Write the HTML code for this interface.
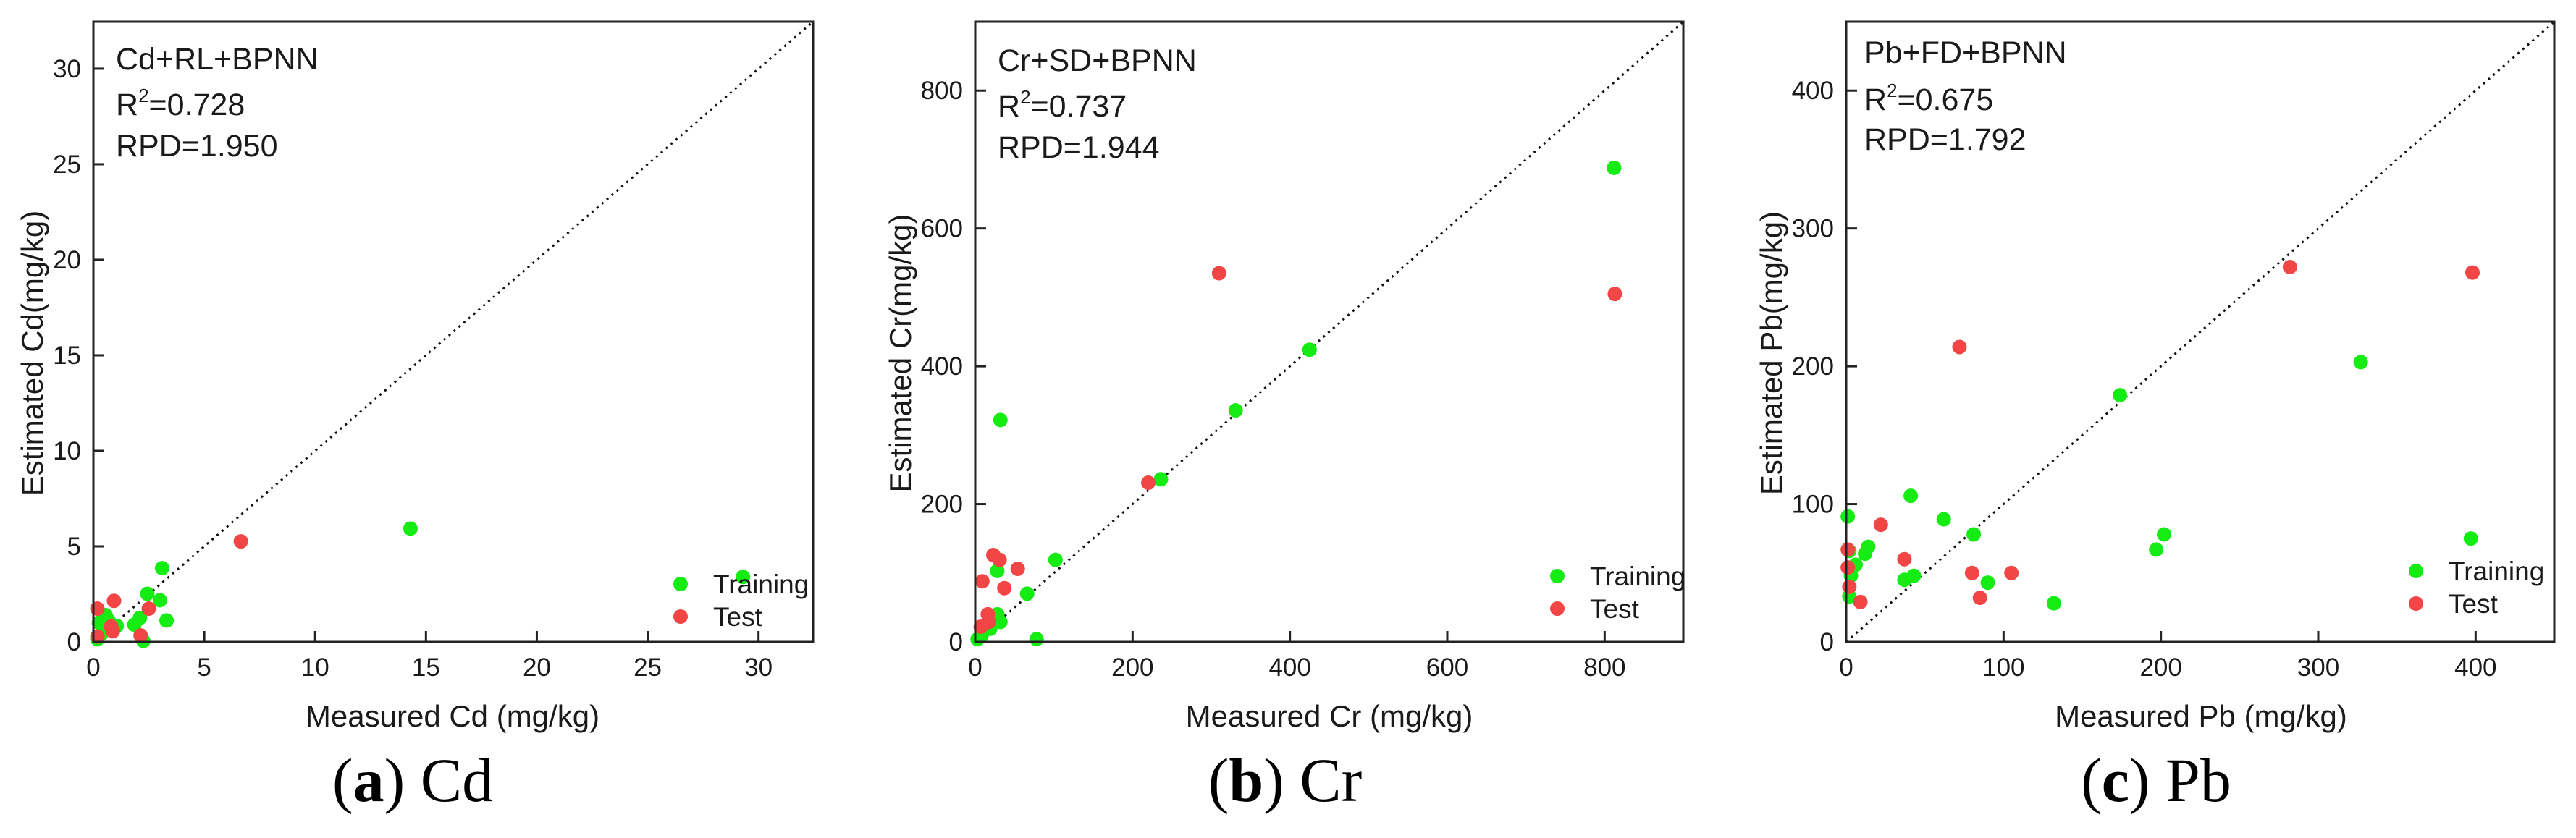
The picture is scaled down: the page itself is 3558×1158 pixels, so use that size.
<!DOCTYPE html>
<html><head><meta charset="utf-8"><style>
html,body{margin:0;padding:0;background:#fff;}
svg{display:block;}
text{font-family:"Liberation Sans",sans-serif;fill:#1a1a1a;}
.cap{font-family:"Liberation Serif",serif;font-size:86px;fill:#000;}
</style></head><body>
<svg id="fig" width="3558" height="1158" viewBox="0 0 3558 1158" xmlns="http://www.w3.org/2000/svg"></svg>
<script>
// Panel (a) Cd
const cdTrainX = [14.3,29.3,3.1,2.43,3.0,3.3,2.1,1.85,0.68,0.25,1.05,0.35,0.18,2.25,0.55];
const cdTrainY = [5.93,3.4,3.86,2.52,2.18,1.12,1.26,0.9,1.12,1.0,0.84,0.4,0.14,0.05,1.4];
const cdTestX = [6.65,0.93,0.18,2.5,0.88,2.13,0.18,0.8];
const cdTestY = [5.26,2.15,1.74,1.74,0.56,0.34,0.28,0.8];
const cdTicks = [0,5,10,15,20,25,30];
// Panel (b) Cr
const crTrainX = [812,425,331,236,32,102,28,66,28,32,78,19,8,3];
const crTrainY = [688,424,336,236,322,119,103,70,40,29,4,19,9,4];
const crTestX = [310,813,220,23,31,54,9,37,16,17,7];
const crTestY = [535,505,231,126,119,106,88,78,40,29,22];
const crTicks = [0,200,400,600,800];
// Panel (c) Pb
const pbTrainX = [327,174,41,397,202,197,62,81,90,132,37,43,14,12,6,1,2,2,3];
const pbTrainY = [203,179,106,75,78,67,89,78,43,28,45,48,69,64,56,91,66,33,48];
const pbTestX = [282,398,72,22,37,80,105,85,9,1,1,2];
const pbTestY = [272,268,214,85,60,50,50,32,29,67,54,40];
const pbTicks = [0,100,200,300,400];

const NS = "http://www.w3.org/2000/svg";
const svg = document.getElementById('fig');
function el(tag, attrs, parent, txt){
  const e = document.createElementNS(NS, tag);
  for (const k in attrs) e.setAttribute(k, attrs[k]);
  if (txt !== undefined) e.textContent = txt;
  (parent || svg).appendChild(e);
  return e;
}
const panels = [
  {id:'cd', L:129, R:1123, T:30, B:887, max:32.46, ticks:cdTicks, tx:cdTrainX, ty:cdTrainY, sx:cdTestX, sy:cdTestY,
   lines:['Cd+RL+BPNN','0.728','RPD=1.950'], textX:160, base:[96,159,216], yTitle:'Estimated Cd(mg/kg)', yTitleX:44,
   xTitle:'Measured Cd (mg/kg)', xTitleX:625, legX:940, legY:[807,852], cap:['a',' Cd'], capX:570},
  {id:'cr', L:1347, R:2325, T:30, B:887, max:900, ticks:crTicks, tx:crTrainX, ty:crTrainY, sx:crTestX, sy:crTestY,
   lines:['Cr+SD+BPNN','0.737','RPD=1.944'], textX:1378, base:[98,161,218], yTitle:'Estimated Cr(mg/kg)', yTitleX:1243,
   xTitle:'Measured Cr (mg/kg)', xTitleX:1836, legX:2151, legY:[796,841], cap:['b',' Cr'], capX:1775},
  {id:'pb', L:2550, R:3528, T:30, B:887, max:450, ticks:pbTicks, tx:pbTrainX, ty:pbTrainY, sx:pbTestX, sy:pbTestY,
   lines:['Pb+FD+BPNN','0.675','RPD=1.792'], textX:2575, base:[87,152,207], yTitle:'Estimated Pb(mg/kg)', yTitleX:2446,
   xTitle:'Measured Pb (mg/kg)', xTitleX:3040, legX:3337, legY:[789,834], cap:['c',' Pb'], capX:2978}
];
const GREEN = '#14ec14', RED = '#f24545';
panels.forEach(p => {
  const g = el('g', {});
  
  
  const xs = v => p.L + v / p.max * (p.R - p.L);
  const ys = v => p.B - v / p.max * (p.B - p.T);
  // diagonal 1:1 line
  const d = el('line', {x1:xs(0), y1:ys(0), x2:xs(p.max), y2:ys(p.max), stroke:'#111', 'stroke-width':3, 'stroke-dasharray':'3,6'}, g);
  
  
  // points
  p.tx.forEach((v,i) => {
    const c = el('circle', {cx:xs(v), cy:ys(p.ty[i]), r:10, fill:GREEN}, g);
    
    
  });
  p.sx.forEach((v,i) => {
    const c = el('circle', {cx:xs(v), cy:ys(p.sy[i]), r:10, fill:RED}, g);
    
    
  });
  // frame
  const fr = el('rect', {x:p.L, y:p.T, width:p.R-p.L, height:p.B-p.T, fill:'none', stroke:'#222', 'stroke-width':3}, g);
  
  
  // ticks
  p.ticks.forEach(t => {
    el('line', {x1:xs(t), y1:p.B, x2:xs(t), y2:p.B-15, stroke:'#222', 'stroke-width':3}, g);
    const xl = el('text', {x:xs(t), y:934, 'font-size':35, 'text-anchor':'middle'}, g, t);
    
    
    el('line', {x1:p.L, y1:ys(t), x2:p.L+15, y2:ys(t), stroke:'#222', 'stroke-width':3}, g);
    const yl = el('text', {x:p.L-17, y:ys(t)+12, 'font-size':35, 'text-anchor':'end'}, g, t);
    
    
  });
  // inset text
  const t1 = el('text', {x:p.textX, y:p.base[0], 'font-size':43}, g, p.lines[0]);
  
  
  const t2 = el('text', {x:p.textX, y:p.base[1], 'font-size':43}, g);
  
  
  el('tspan', {}, t2, 'R');
  el('tspan', {'font-size':26, dy:-18}, t2, '2');
  el('tspan', {dy:18}, t2, '=' + p.lines[1]);
  const t3 = el('text', {x:p.textX, y:p.base[2], 'font-size':43}, g, p.lines[2]);
  
  
  // axis titles
  const xt = el('text', {x:p.xTitleX, y:1004, 'font-size':42, 'text-anchor':'middle'}, g, p.xTitle);
  
  
  const yt = el('text', {x:p.yTitleX+15, y:488, 'font-size':42, 'text-anchor':'middle', transform:`rotate(-90 ${p.yTitleX+15} 488)`}, g, p.yTitle);
  
  
  // legend
  const lg = el('g', {}, g);
  
  
  el('circle', {cx:p.legX, cy:p.legY[0], r:10, fill:GREEN}, lg);
  const l1 = el('text', {x:p.legX+45, y:p.legY[0]+13, 'font-size':37}, lg, 'Training');
  
  
  el('circle', {cx:p.legX, cy:p.legY[1], r:10, fill:RED}, lg);
  const l2 = el('text', {x:p.legX+45, y:p.legY[1]+13, 'font-size':37}, lg, 'Test');
  
  
  // caption
  const cp = el('text', {x:p.capX, y:1107, 'text-anchor':'middle', class:'cap'}, g);
  
  
  el('tspan', {}, cp, '(');
  el('tspan', {'font-weight':'bold'}, cp, p.cap[0]);
  el('tspan', {}, cp, ')' + p.cap[1]);
});
</script>
</body></html>
